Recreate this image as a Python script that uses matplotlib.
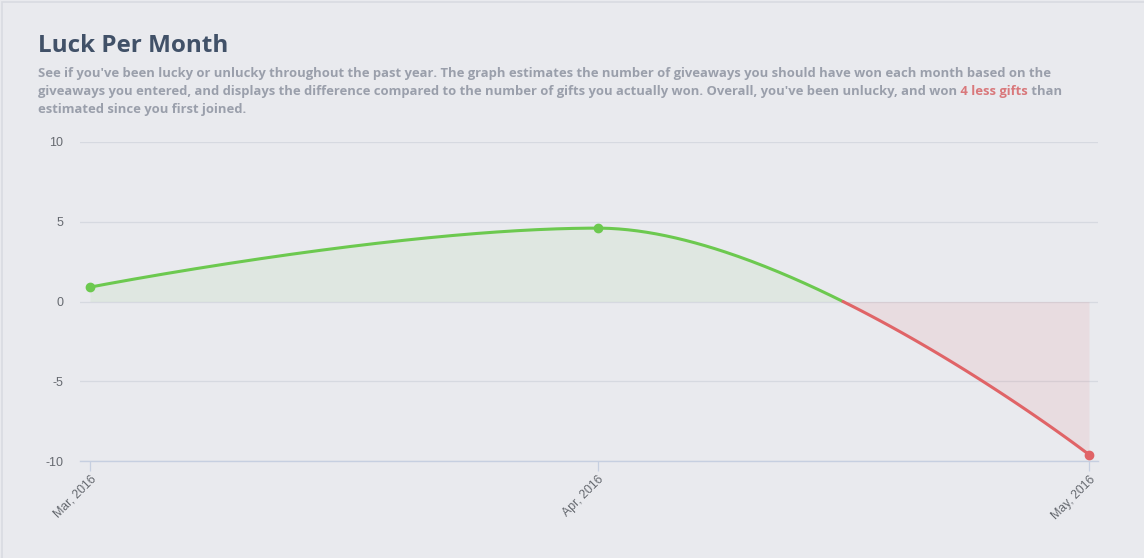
import numpy as np
import pandas as pd
import matplotlib
matplotlib.use("Agg")
import matplotlib.pyplot as plt
from matplotlib.patches import Rectangle

months = ["Mar, 2016", "Apr, 2016", "May, 2016"]
month_starts = ["2016-03-01", "2016-04-01", "2016-05-01"]
luck = [0.9, 4.6, -9.6]
yticks = [-10, -5, 0, 5, 10]

title = "Luck Per Month"
sub_line1 = ("See if you've been lucky or unlucky throughout the past year. The graph estimates "
             "the number of giveaways you should have won each month based on the")
sub_line2a = ("giveaways you entered, and displays the difference compared to the number of gifts "
              "you actually won. Overall, you've been unlucky, and won")
sub_line2b = " 4 less gifts"
sub_line2c = " than"
sub_line3 = "estimated since you first joined."

BG = "#e9eaee"
GREEN = "#6cc94f"
RED = "#e06467"
GRID = "#d6d9e0"
AXIS = "#c6cfe0"
LABEL = "#666a70"


def spline(xs, ys, smoothing=1.5, n=200):
    # highcharts style spline through the points (cubic bezier segments)
    xs = list(xs)
    ys = list(ys)
    m = len(xs)
    left = [(xs[i], ys[i]) for i in range(m)]
    right = [(xs[i], ys[i]) for i in range(m)]
    d = smoothing + 1
    for i in range(1, m - 1):
        lx = (smoothing * xs[i] + xs[i - 1]) / d
        ly = (smoothing * ys[i] + ys[i - 1]) / d
        rx = (smoothing * xs[i] + xs[i + 1]) / d
        ry = (smoothing * ys[i] + ys[i + 1]) / d
        corr = (ry - ly) * (rx - xs[i]) / (rx - lx) + ys[i] - ry
        ly += corr
        ry += corr
        if ly > ys[i - 1] and ly > ys[i]:
            ly = max(ys[i - 1], ys[i])
            ry = 2 * ys[i] - ly
        elif ly < ys[i - 1] and ly < ys[i]:
            ly = min(ys[i - 1], ys[i])
            ry = 2 * ys[i] - ly
        if ry > ys[i + 1] and ry > ys[i]:
            ry = max(ys[i + 1], ys[i])
            ly = 2 * ys[i] - ry
        elif ry < ys[i + 1] and ry < ys[i]:
            ry = min(ys[i + 1], ys[i])
            ly = 2 * ys[i] - ry
        left[i] = (lx, ly)
        right[i] = (rx, ry)
    t = np.linspace(0, 1, n)
    cx, cy = [], []
    for i in range(m - 1):
        p0 = (xs[i], ys[i])
        p1 = right[i]
        p2 = left[i + 1]
        p3 = (xs[i + 1], ys[i + 1])
        b0 = (1 - t) ** 3
        b1 = 3 * t * (1 - t) ** 2
        b2 = 3 * t ** 2 * (1 - t)
        b3 = t ** 3
        cx.append(b0 * p0[0] + b1 * p1[0] + b2 * p2[0] + b3 * p3[0])
        cy.append(b0 * p0[1] + b1 * p1[1] + b2 * p2[1] + b3 * p3[1])
    return np.concatenate(cx), np.concatenate(cy)


dates = pd.to_datetime(month_starts)
x = np.array((dates - dates[0]).days, dtype=float)
sx, sy = spline(x, luck)

# split the curve at zero for the two colour zones
k = np.where(np.diff(np.sign(sy)) != 0)[0]
if len(k):
    j = k[0]
    x0 = sx[j] + (0 - sy[j]) * (sx[j + 1] - sx[j]) / (sy[j + 1] - sy[j])
    gx = np.append(sx[:j + 1], x0)
    gy = np.append(sy[:j + 1], 0)
    rx = np.insert(sx[j + 1:], 0, x0)
    ry = np.insert(sy[j + 1:], 0, 0)
else:
    gx, gy, rx, ry = sx, sy, sx[:0], sy[:0]

fig = plt.figure(figsize=(11.44, 5.58), dpi=100)
fig.patch.set_facecolor(BG)
fig.patches.append(Rectangle((0.002, -0.01), 1.2, 1.006, transform=fig.transFigure,
                             fill=False, edgecolor="#d9dbe1", linewidth=1.2))

ax = fig.add_axes([80 / 1144, (558 - 461) / 558, (1098 - 80) / 1144, (461 - 142) / 558])
ax.set_facecolor(BG)

ax.fill_between(gx, gy, 0, color=GREEN, alpha=0.08, linewidth=0)
ax.fill_between(rx, ry, 0, color=RED, alpha=0.1, linewidth=0)
ax.plot(gx, gy, color=GREEN, linewidth=2.2, solid_capstyle="round", zorder=3)
ax.plot(rx, ry, color=RED, linewidth=2.2, solid_capstyle="round", zorder=3)
for xi, yi in zip(x, luck):
    ax.plot(xi, yi, "o", color=GREEN if yi >= 0 else RED, markersize=6, zorder=4)

px = (x[-1] - x[0]) / (1089 - 90)
ax.set_xlim(x[0] - 10 * px, x[-1] + 9 * px)
ax.set_ylim(-10, 10)
ax.set_yticks(yticks)
ax.set_yticklabels([str(v) for v in yticks])
ax.set_xticks(x)
ax.set_xticklabels(months, rotation=45, ha="right", va="top", rotation_mode="anchor")
ax.grid(axis="y", color=GRID, linewidth=0.9)
ax.set_axisbelow(True)
for s in ["top", "right", "left"]:
    ax.spines[s].set_visible(False)
ax.spines["bottom"].set_color(AXIS)
ax.spines["bottom"].set_linewidth(1)
ax.tick_params(axis="y", length=0, pad=12, labelsize=9, labelcolor=LABEL)
ax.tick_params(axis="x", direction="out", length=7, width=0.9, color=AXIS, pad=2,
               labelsize=8.8, labelcolor=LABEL)
for lbl in ax.get_xticklabels() + ax.get_yticklabels():
    lbl.set_fontfamily("Liberation Sans")

fig.text(38 / 1144, 1 - 46 / 558, title, fontsize=17.5, fontweight="bold", color="#415168",
         family="Open Sans", va="center", ha="left")

sub_kw = dict(fontsize=9.35, fontweight="bold", color="#9a9fab", family="Open Sans",
              va="baseline", ha="left")
x_left = 38 / 1144
fig.text(x_left, 1 - 77 / 558, sub_line1, **sub_kw)
t2 = fig.text(x_left, 1 - 95 / 558, sub_line2a, **sub_kw)
fig.canvas.draw()
r = fig.canvas.get_renderer()
w = t2.get_window_extent(r).width / fig.bbox.width
t3 = fig.text(x_left + w, 1 - 95 / 558, sub_line2b, **dict(sub_kw, color="#d9787b"))
w3 = t3.get_window_extent(r).width / fig.bbox.width
fig.text(x_left + w + w3, 1 - 95 / 558, sub_line2c, **sub_kw)
fig.text(x_left, 1 - 113 / 558, sub_line3, **sub_kw)

fig.savefig("out.png", dpi=100, facecolor=BG)
